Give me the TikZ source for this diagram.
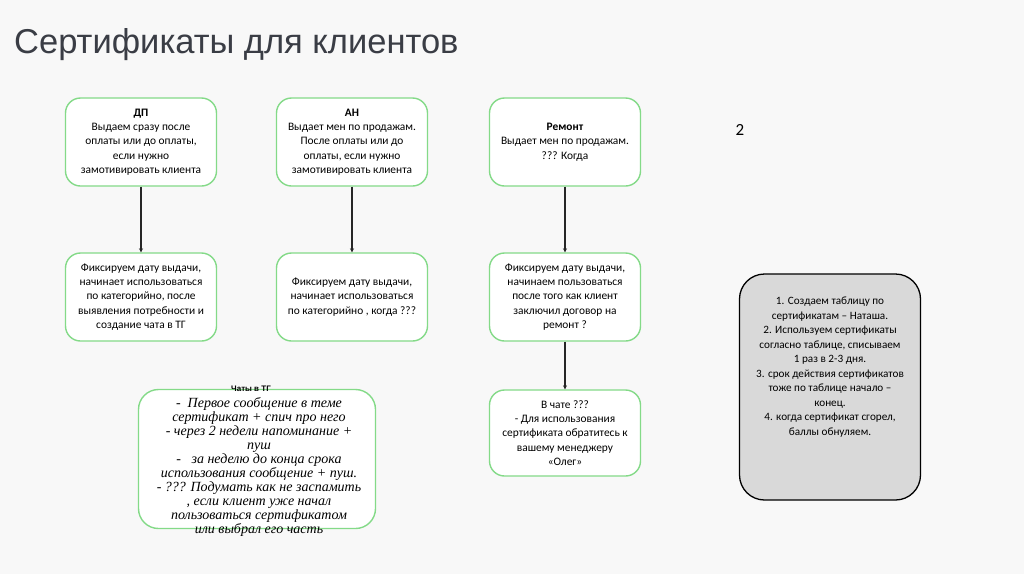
\documentclass[tikz,border=0pt]{standalone}
\usepackage{fontspec}
\setmainfont{Carlito}
\newfontfamily\titlefont{Liberation Sans}
\newfontfamily\handfont{Liberation Serif}
\usetikzlibrary{arrows.meta}
\definecolor{bg}{HTML}{F8F8F8}
\definecolor{grn}{HTML}{84DA88}
\definecolor{titlec}{HTML}{3A3D45}
\definecolor{gfill}{HTML}{D9D9D9}
\tikzset{
  gbox/.style={draw=grn, line width=1.4pt, fill=white, rounded corners=15pt,
    minimum width=151pt, minimum height=88pt, align=center, inner sep=2pt,
    font=\fontsize{11.4}{14.3}\selectfont},
  arr/.style={draw=black!85, line width=1.3pt, -{Stealth[length=4pt,width=4pt]}},
}
\begin{document}
\begin{tikzpicture}[x=1pt,y=-1pt]
\useasboundingbox[fill=bg] (0,0) rectangle (1024,574);
\node[anchor=base west, inner sep=0pt, text=titlec, font=\titlefont\fontsize{34.5}{40}\selectfont] (title) at (14,53) {Сертификаты для клиентов};

\node[gbox] (dp) at (141,142) {\textbf{ДП}\\Выдаем сразу после\\оплаты или до оплаты,\\если нужно\\замотивировать клиента};
\node[gbox] (an) at (352,142) {\textbf{АН}\\Выдает мен по продажам.\\После оплаты или до\\оплаты, если нужно\\замотивировать клиента};
\node[gbox] (rem) at (565,142) {\textbf{Ремонт}\\Выдает мен по продажам.\\??? Когда};

\node[gbox] (dpf) at (141,297) {Фиксируем дату выдачи,\\начинает использоваться\\по категорийно, после\\выявления потребности и\\создание чата в ТГ};
\node[gbox] (anf) at (352,297) {Фиксируем дату выдачи,\\начинает использоваться\\по категорийно , когда ???};
\node[gbox] (remf) at (565,297) {Фиксируем дату выдачи,\\начинаем пользоваться\\после того как клиент\\заключил договор на\\ремонт ?};

\node[gbox, minimum height=86pt] (chat4) at (565,433) {В чате ???\\- Для использования\\сертификата обратитесь к\\вашему менеджеру\\«Олег»};

\draw[arr] (dp.south) -- (dpf.north);
\draw[arr] (an.south) -- (anf.north);
\draw[arr] (rem.south) -- (remf.north);
\draw[arr] (remf.south) -- (chat4.north);

\node[draw=grn, line width=1.4pt, fill=white, rounded corners=20pt, minimum width=237pt, minimum height=139pt] (tg) at (257,459) {};
\node[font=\titlefont\bfseries\fontsize{8}{10}\selectfont] (tgtitle) at (251,389) {Чаты в ТГ};
\node[align=center, font=\handfont\itshape\fontsize{14}{14}\selectfont] (tgtext) at (259,467) {-~~Первое сообщение в теме\\сертификат + спич про него\\- через 2 недели напоминание +\\пуш\\-~~~за неделю до конца срока\\использования сообщение + пуш.\\- ??? Подумать как не заспамить\\, если клиент уже начал\\пользоваться сертификатом\\или выбрал его часть};

\node[font=\fontsize{17}{20}\selectfont] (num) at (740,130) {2};

\node[draw=black, line width=1.3pt, fill=gfill, rounded corners=25pt, minimum width=181pt, minimum height=226pt] (gray) at (830,387) {};
\node[align=center, font=\fontsize{11.2}{14.5}\selectfont] (graytext) at (830,367) {1. Создаем таблицу по\\сертификатам – Наташа.\\2. Используем сертификаты\\согласно таблице, списываем\\1 раз в 2-3 дня.\\3. срок действия сертификатов\\тоже по таблице начало –\\конец.\\4. когда сертификат сгорел,\\баллы обнуляем.};
\end{tikzpicture}
\end{document}
